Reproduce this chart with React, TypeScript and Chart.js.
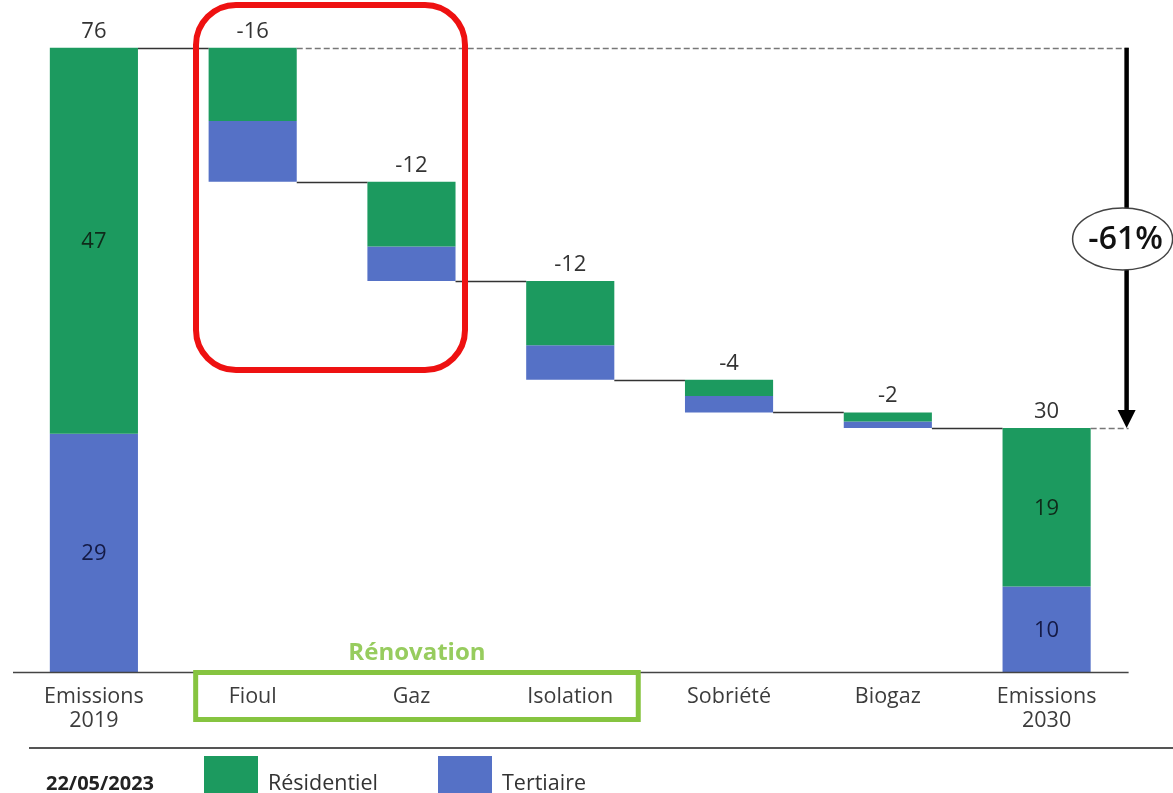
import React, { useEffect, useRef } from "react";
import { Chart, registerables } from "chart.js";

Chart.register(...registerables);

// Waterfall of building-sector emissions (MtCO2e), split by sector
const categories: (string | string[])[] = [
  ["Emissions", "2019"],
  "Fioul",
  "Gaz",
  "Isolation",
  "Sobriété",
  "Biogaz",
  ["Emissions", "2030"],
];
// Totals (first/last) are stock levels; the others are reductions
const isTotal = [true, false, false, false, false, false, true];
const residentiel = [47, -8.9, -7.9, -7.8, -2.0, -1.1, 19.3];
const tertiaire = [29, -7.4, -4.2, -4.2, -2.0, -0.8, 10.4];
const reductionLabel = "-61%";
const renovationGroup = ["Fioul", "Gaz", "Isolation"];
const dateLabel = "22/05/2023";
const seriesNames = ["Résidentiel", "Tertiaire"];

const GREEN = "#1c9a5f";
const BLUE = "#5571c6";
const FONT = "'Open Sans', sans-serif";

// Floating [low, high] ranges for each stacked segment
const resRanges: [number, number][] = [];
const terRanges: [number, number][] = [];
const levelsAfter: number[] = [];
const topOf: number[] = [];
{
  let level = 0;
  for (let i = 0; i < categories.length; i++) {
    const r = residentiel[i];
    const t = tertiaire[i];
    if (isTotal[i]) {
      terRanges.push([0, t]);
      resRanges.push([t, t + r]);
      level = t + r;
      topOf.push(level);
    } else {
      topOf.push(level);
      const rTop = level;
      const rBot = level - Math.abs(r);
      const tBot = rBot - Math.abs(t);
      resRanges.push([rBot, rTop]);
      terRanges.push([tBot, rBot]);
      level = tBot;
    }
    levelsAfter.push(level);
  }
}

const annotations = {
  id: "waterfallDecor",
  afterDatasetsDraw(chart: any) {
    const ctx: CanvasRenderingContext2D = chart.ctx;
    const x = chart.scales.x;
    const y = chart.scales.y;
    const bars = chart.getDatasetMeta(0).data;
    const n = categories.length;
    const half = (i: number) => bars[i].width / 2;
    const cx = (i: number) => x.getPixelForValue(i);
    const W = chart.width;
    const startY = y.getPixelForValue(levelsAfter[0]);
    const endY = y.getPixelForValue(levelsAfter[n - 1]);
    const arrowX = cx(n - 1) + 80;

    ctx.save();

    // connectors between consecutive bars
    ctx.strokeStyle = "#333";
    ctx.lineWidth = 1.5;
    for (let i = 0; i < n - 1; i++) {
      const yy = Math.round(y.getPixelForValue(levelsAfter[i])) + 0.5;
      ctx.beginPath();
      ctx.moveTo(cx(i) + half(i), yy);
      ctx.lineTo(cx(i + 1) - half(i + 1), yy);
      ctx.stroke();
    }

    // dashed reference lines at start and end levels
    ctx.strokeStyle = "#777";
    ctx.setLineDash([6, 3]);
    ctx.beginPath();
    ctx.moveTo(cx(1) + half(1), Math.round(startY) + 0.5);
    ctx.lineTo(arrowX + 2, Math.round(startY) + 0.5);
    ctx.moveTo(cx(n - 1) + half(n - 1), Math.round(endY) + 0.5);
    ctx.lineTo(arrowX + 2, Math.round(endY) + 0.5);
    ctx.stroke();
    ctx.setLineDash([]);

    // baseline
    const baseY = y.getPixelForValue(0);
    ctx.strokeStyle = "#444";
    ctx.lineWidth = 1.5;
    ctx.beginPath();
    ctx.moveTo(13, baseY + 0.5);
    ctx.lineTo(arrowX + 2, baseY + 0.5);
    ctx.stroke();

    // value labels
    ctx.fillStyle = "#333";
    ctx.font = `22px ${FONT}`;
    ctx.textAlign = "center";
    ctx.textBaseline = "alphabetic";
    for (let i = 0; i < n; i++) {
      const v = Math.round(residentiel[i] + tertiaire[i]);
      ctx.fillText(String(v), cx(i), y.getPixelForValue(topOf[i]) - 10);
      if (isTotal[i]) {
        ctx.textBaseline = "middle";
        ctx.fillStyle = "#0f2a1a";
        const rm = (resRanges[i][0] + resRanges[i][1]) / 2;
        ctx.fillText(String(Math.round(residentiel[i])), cx(i), y.getPixelForValue(rm) + 1);
        ctx.fillStyle = "#141a45";
        const tm = (terRanges[i][0] + terRanges[i][1]) / 2;
        ctx.fillText(String(Math.round(tertiaire[i])), cx(i), y.getPixelForValue(tm) + 1);
        ctx.fillStyle = "#333";
        ctx.textBaseline = "alphabetic";
      }
    }

    // total-change arrow
    ctx.strokeStyle = "#000";
    ctx.fillStyle = "#000";
    ctx.lineWidth = 4.5;
    ctx.beginPath();
    ctx.moveTo(arrowX, startY);
    ctx.lineTo(arrowX, endY - 14);
    ctx.stroke();
    ctx.beginPath();
    ctx.moveTo(arrowX - 9, endY - 18);
    ctx.lineTo(arrowX + 9, endY - 18);
    ctx.lineTo(arrowX, endY);
    ctx.closePath();
    ctx.fill();

    const ey = (startY + endY) / 2 + 1;
    ctx.beginPath();
    ctx.ellipse(arrowX - 4, ey, 50, 31, 0, 0, Math.PI * 2);
    ctx.fillStyle = "#fff";
    ctx.fill();
    ctx.strokeStyle = "#444";
    ctx.lineWidth = 1.5;
    ctx.stroke();
    ctx.fillStyle = "#111";
    ctx.font = `600 32px ${FONT}`;
    ctx.textBaseline = "middle";
    ctx.fillText(reductionLabel, arrowX - 1, ey + 1);

    // highlight around fuel-switch bars
    ctx.strokeStyle = "#ee1111";
    ctx.lineWidth = 6;
    ctx.beginPath();
    ctx.roundRect(196, 5, 269, 365, 40);
    ctx.stroke();

    // category labels
    ctx.fillStyle = "#3c3c3c";
    ctx.font = `21.5px ${FONT}`;
    ctx.textBaseline = "middle";
    categories.forEach((c, i) => {
      const lines = Array.isArray(c) ? c : [c];
      lines.forEach((l, k) => ctx.fillText(l, cx(i), 697 + k * 24));
    });

    // renovation group box
    const gi = renovationGroup.map((g) => categories.indexOf(g));
    const gLeft = cx(gi[0]) - 57;
    const gRight = cx(gi[gi.length - 1]) + 68;
    ctx.strokeStyle = "#86c440";
    ctx.lineWidth = 5;
    ctx.strokeRect(gLeft, 672.5, gRight - gLeft, 47);
    ctx.fillStyle = "#97cc5e";
    ctx.font = `bold 24px ${FONT}`;
    ctx.fillText("Rénovation", (gLeft + gRight) / 2, 653);

    // footer separator
    ctx.strokeStyle = "#555";
    ctx.lineWidth = 2;
    ctx.beginPath();
    ctx.moveTo(29, 748);
    ctx.lineTo(W, 748);
    ctx.stroke();

    // footer: date and legend
    ctx.textAlign = "left";
    ctx.fillStyle = "#222";
    ctx.font = `bold 20px ${FONT}`;
    ctx.fillText(dateLabel, 46, 784);
    ctx.font = `21.5px ${FONT}`;
    const legend = [
      { name: seriesNames[0], color: GREEN, x: 204 },
      { name: seriesNames[1], color: BLUE, x: 438 },
    ];
    legend.forEach((l) => {
      ctx.fillStyle = l.color;
      ctx.fillRect(l.x, 756, 54, 40);
      ctx.fillStyle = "#333";
      ctx.fillText(l.name, l.x + 64, 784);
    });

    ctx.restore();
  },
};

export default function App() {
  const ref = useRef<HTMLCanvasElement>(null);
  useEffect(() => {
    if (!ref.current) return;
    const chart = new Chart(ref.current, {
      type: "bar",
      data: {
        labels: categories as any,
        datasets: [
          {
            label: seriesNames[0],
            data: resRanges as any,
            backgroundColor: GREEN,
            borderWidth: 0,
            categoryPercentage: 1,
            barPercentage: 0.555,
          },
          {
            label: seriesNames[1],
            data: terRanges as any,
            backgroundColor: BLUE,
            borderWidth: 0,
            categoryPercentage: 1,
            barPercentage: 0.555,
          },
        ],
      },
      options: {
        animation: false,
        responsive: false,
        events: [],
        layout: { padding: { left: 14.5, right: 47, top: 15, bottom: 121 } },
        plugins: { legend: { display: false }, tooltip: { enabled: false } },
        scales: {
          x: { stacked: true, display: false },
          y: { stacked: false, display: false, min: 0, max: 80 },
        },
      },
      plugins: [annotations],
    });
    return () => chart.destroy();
  }, []);
  return (
    <div style={{ position: "absolute", left: 0, top: 0, width: 1173, height: 793, background: "#fff" }}>
      <canvas ref={ref} width={1173} height={793} style={{ display: "block" }} />
    </div>
  );
}
